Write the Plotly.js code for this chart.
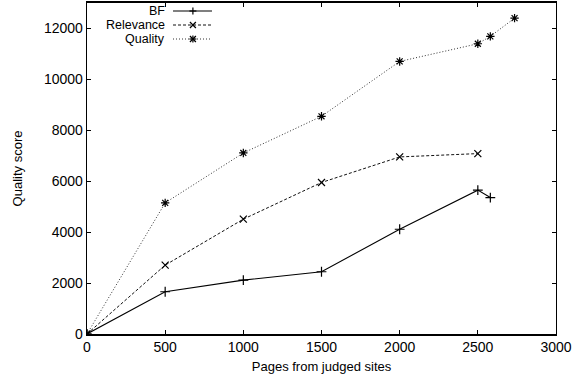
<!DOCTYPE html>
<html><head><meta charset="utf-8">
<script src="https://cdn.plot.ly/plotly-3.0.1.min.js"></script>
<style>body{margin:0;padding:0;background:#fff}#chart{width:573px;height:378px}</style>
</head><body><div id="chart"></div>
<script>
const bfX = [0, 500, 1000, 1500, 2000, 2500, 2580];
const bfY = [0, 1660, 2115, 2445, 4115, 5650, 5360];
const relX = [0, 500, 1000, 1500, 2000, 2500];
const relY = [0, 2705, 4510, 5950, 6955, 7085];
const qualX = [0, 500, 1000, 1500, 2000, 2500, 2580, 2735];
const qualY = [0, 5150, 7110, 8550, 10705, 11400, 11690, 12405];
const seriesNames = ['BF', 'Relevance', 'Quality'];
const xTicks = [0, 500, 1000, 1500, 2000, 2500, 3000];
const yTicks = [0, 2000, 4000, 6000, 8000, 10000, 12000];

const FONT = 'Liberation Sans, Arial, sans-serif';
const styles = [
  {line: {color: '#000', width: 1.1, dash: 'solid'}, sym: 'cross-thin-open', spokes: ['+']},
  {line: {color: '#111', width: 1, dash: '3px,2px'}, sym: 'x-thin-open', spokes: ['x']},
  {line: {color: '#333', width: 1, dash: '1px,2px'}, sym: 'asterisk-open', spokes: ['+', 'x']}
];
const xs = [bfX, relX, qualX], ys = [bfY, relY, qualY];
const traces = xs.map((x, i) => ({
  x: x, y: ys[i], name: seriesNames[i], mode: 'lines+markers', showlegend: false,
  line: styles[i].line,
  marker: {symbol: styles[i].sym, size: 7, color: '#000', line: {color: '#000', width: 1.2}}
}));

// gnuplot-style key: labels right-aligned, samples to their right
const keyRows = [0.9758, 0.9335, 0.8912];
const keyX0 = 0.1834, keyX1 = 0.2665, keyXm = 0.2258;
const shapes = [], annotations = [];
const mk = (xa, ya, x0, y0, x1, y1) => ({type: 'line', xref: 'paper', yref: 'paper',
  xsizemode: 'pixel', ysizemode: 'pixel', xanchor: xa, yanchor: ya, x0: x0, y0: y0, x1: x1, y1: y1,
  line: {color: '#000', width: 1.2}});
seriesNames.forEach((n, i) => {
  annotations.push({xref: 'paper', yref: 'paper', x: 0.1685, y: keyRows[i], xanchor: 'right', yanchor: 'middle',
    text: n, showarrow: false, borderpad: 0, font: {family: FONT, size: 12.5, color: '#000'}});
  shapes.push({type: 'line', xref: 'paper', yref: 'paper', x0: keyX0, x1: keyX1, y0: keyRows[i], y1: keyRows[i],
    line: styles[i].line});
  const r = 3.5;
  styles[i].spokes.forEach(s => {
    if (s === '+') {
      shapes.push(mk(keyXm, keyRows[i], -r, 0, r, 0));
      shapes.push(mk(keyXm, keyRows[i], 0, -r, 0, r));
    } else {
      const d = r * 0.85;
      shapes.push(mk(keyXm, keyRows[i], -d, -d, d, d));
      shapes.push(mk(keyXm, keyRows[i], -d, d, d, -d));
    }
  });
});

const axBase = {showgrid: false, zeroline: false, showline: true, mirror: 'ticks',
  linecolor: '#000', ticks: 'inside', ticklen: 4, tickcolor: '#000',
  tickfont: {family: FONT, size: 14, color: '#000'}};
const layout = {
  width: 573, height: 378,
  margin: {l: 87, r: 17, t: 3, b: 44},
  paper_bgcolor: '#fff', plot_bgcolor: '#fff',
  font: {family: FONT, size: 13, color: '#000'},
  xaxis: Object.assign({}, axBase, {range: [0, 3000], tickvals: xTicks, ticktext: xTicks.map(String), linewidth: 1.6,
    title: {text: 'Pages from judged sites', font: {family: FONT, size: 13}, standoff: 7}}),
  yaxis: Object.assign({}, axBase, {range: [0, 13000], tickvals: yTicks, ticktext: yTicks.map(String), linewidth: 1.3,
    title: {text: 'Quality score', font: {family: FONT, size: 13}, standoff: 18}}),
  showlegend: false,
  shapes: shapes, annotations: annotations
};
Plotly.newPlot('chart', traces, layout, {staticPlot: true});
</script></body></html>
